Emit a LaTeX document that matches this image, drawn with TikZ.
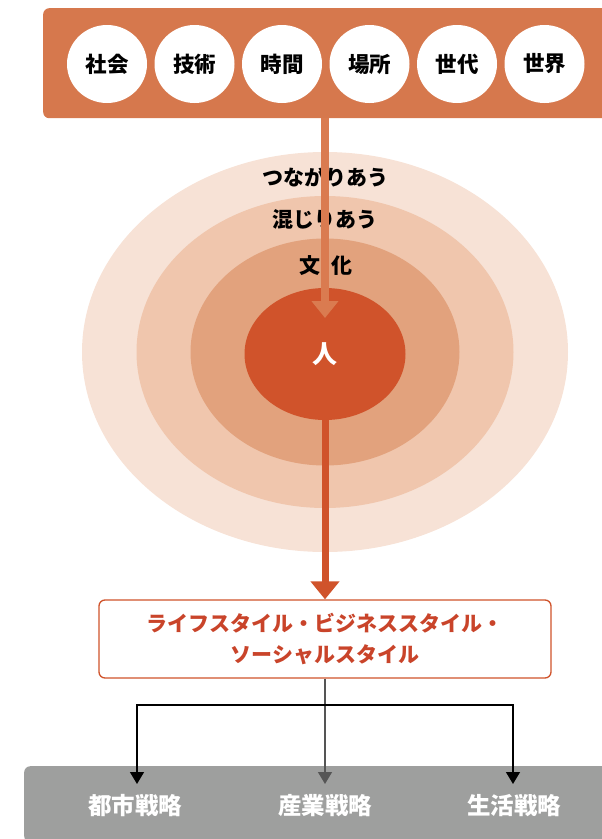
\documentclass[tikz,border=0pt]{standalone}
\usepackage{fontspec}
\setmainfont{Noto Sans CJK JP}
\usetikzlibrary{shapes.geometric,arrows.meta}
\definecolor{topc}{HTML}{D6784D}
\definecolor{arrc}{HTML}{DA7B50}
\definecolor{ellA}{HTML}{F7E2D6}
\definecolor{ellB}{HTML}{F0C6AD}
\definecolor{ellC}{HTML}{E2A27D}
\definecolor{ellD}{HTML}{D0532B}
\definecolor{redt}{HTML}{C9442A}
\definecolor{grayb}{HTML}{9E9F9E}
\definecolor{midl}{HTML}{555555}
\tikzset{
  x=1pt,y=-1pt,
  topcirc/.style={ellipse,fill=white,minimum width=80pt,minimum height=78pt,inner sep=0pt,font=\fontsize{21.5}{21.5}\selectfont\bfseries},
  ring/.style={ellipse,inner sep=0pt},
  lab/.style={font=\fontsize{21}{21}\selectfont\bfseries,inner sep=0pt},
  strat/.style={font=\fontsize{23.5}{23.5}\selectfont\bfseries,text=white,inner sep=0pt},
  thin/.style={line width=1.3pt,-{Triangle[width=14pt,length=12pt]}},
}
\begin{document}
\begin{tikzpicture}
\useasboundingbox (0,0) rectangle (602,839);
% top box
\node[fill=topc,rounded corners=6pt,minimum width=570pt,minimum height=110pt,anchor=north west,inner sep=0pt] (top) at (43,8) {};
\foreach \t [count=\i] in {社会,技術,時間,場所,世代,世界}{
  \node[topcirc] (c\i) at ({107+87.5*(\i-1)},64) {\t};
}
% rings
\node[ring,fill=ellA,minimum width=486pt,minimum height=400pt] (r1) at (325,352) {};
\node[ring,fill=ellB,minimum width=377pt,minimum height=312pt] (r2) at (325,352) {};
\node[ring,fill=ellC,minimum width=269pt,minimum height=227pt] (r3) at (325,352) {};
\node[ring,fill=ellD,minimum width=161pt,minimum height=132pt,text=white,font=\fontsize{25}{25}\selectfont\bfseries] (core) at (325,354) {人};
\node[lab] (t1) at (325,177) {つながりあう};
\node[lab] (t2) at (325,219) {混じりあう};
\node[lab] (t3) at (326,266) {文\hspace{0.5em}化};
% arrow from top
\coordinate (a1) at (325,318);
\draw[arrc,line width=8pt,-{Triangle[width=26pt,length=17pt]}] (top.south -| a1) -- (a1);
% lifestyle box
\node[draw=ellD,line width=1.3pt,fill=white,rounded corners=6pt,minimum width=452pt,minimum height=78pt,inner sep=0pt,align=center,text=redt,font=\fontsize{21}{31}\selectfont\bfseries] (life) at (325,639) {ライフスタイル・ビジネススタイル・\\ソーシャルスタイル};
\draw[ellD,line width=7pt,-{Triangle[width=28pt,length=18pt]}] (core.south) -- (life.north);
% bottom box
\node[fill=grayb,rounded corners=6pt,minimum width=600pt,minimum height=76pt,anchor=north west,inner sep=0pt] (bot) at (24,766) {};
\node[strat] (s1) at (135,806) {都市戦略};
\node[strat] (s2) at (325,806) {産業戦略};
\node[strat] (s3) at (514,806) {生活戦略};
\coordinate (e1) at (137,784);
\coordinate (e2) at (325,784);
\coordinate (e3) at (513,784);
\coordinate (h) at (325,705);
\draw[thin,midl] (life.south) -- (e2);
\draw[thin,black] (h) -- (h -| e1) -- (e1);
\draw[thin,black] (h) -- (h -| e3) -- (e3);
\end{tikzpicture}
\end{document}
